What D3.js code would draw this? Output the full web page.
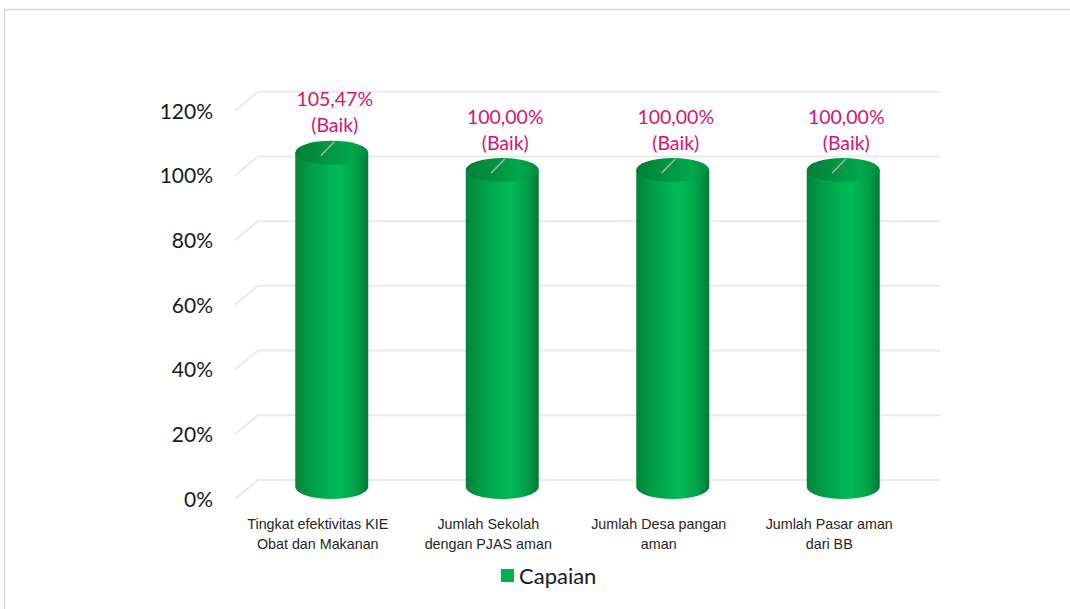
<!DOCTYPE html>
<html><head><meta charset="utf-8">
<script src="https://cdn.jsdelivr.net/npm/d3@7"></script>
<style>body{margin:0;background:#fff}svg{display:block}</style>
</head><body>
<svg id="c" width="1070" height="609"></svg>
<script>
const categories = [
  ["Tingkat efektivitas KIE", "Obat dan Makanan"],
  ["Jumlah Sekolah", "dengan PJAS aman"],
  ["Jumlah Desa pangan", "aman"],
  ["Jumlah Pasar aman", "dari BB"]
];
const values = [105.47, 100.00, 100.00, 100.00];
const valueLabels = ["105,47%", "100,00%", "100,00%", "100,00%"];
const statusLabels = ["(Baik)", "(Baik)", "(Baik)", "(Baik)"];
const yTicks = [0, 20, 40, 60, 80, 100, 120];
const seriesName = "Capaian";

const svg = d3.select("#c");
// frame
svg.append("path").attr("d","M4.5,609 L4.5,9.5 L1070,9.5").attr("fill","none").attr("stroke","#d9d9d9").attr("stroke-width",1.5);

const depthX = -23, depthY = 19;
const yBack = d3.scaleLinear().domain([0,120]).range([480,91.7]);
const yBar = d3.scaleLinear().domain([0,120]).range([487,106.6]);
const x = d3.scaleBand().domain(d3.range(categories.length)).range([258,940]).paddingInner(0).paddingOuter(0);
const barCx = i => x(i) + x.bandwidth()/2 - 11.5;
const rx = 36.5, ry = 12;

const defs = svg.append("defs");
const g1 = defs.append("linearGradient").attr("id","body").attr("x1","0").attr("x2","1").attr("y1","0").attr("y2","0");
[[0,"#05823a"],[0.18,"#009a45"],[0.5,"#00b552"],[0.62,"#00ba55"],[0.85,"#009f47"],[1,"#00793a"]].forEach(s=>g1.append("stop").attr("offset",s[0]).attr("stop-color",s[1]));
const g2 = defs.append("linearGradient").attr("id","top").attr("x1","0").attr("x2","1").attr("y1","0").attr("y2","0");
[[0,"#007f38"],[0.5,"#009a45"],[0.75,"#00a84b"],[1,"#008a3d"]].forEach(s=>g2.append("stop").attr("offset",s[0]).attr("stop-color",s[1]));

// gridlines
const grid = svg.append("g");
yTicks.forEach(t=>{
  const yb = yBack(t);
  grid.append("path")
    .attr("d",`M${258+depthX},${yb+depthY} L258,${yb} L940,${yb}`)
    .attr("fill","none").attr("stroke","#ebebeb").attr("stroke-width",2);
});

// y axis labels
const yAxis = d3.axisLeft(d3.scaleLinear().domain([0,120]).range([yBack(0)+depthY, yBack(120)+depthY]))
  .tickValues(yTicks).tickSize(0).tickPadding(0).tickFormat(d=>d+"%");
svg.append("g").attr("transform","translate(213,0)").call(yAxis)
  .call(g=>g.select(".domain").remove())
  .selectAll("text").attr("font-family","Lato, 'Open Sans', sans-serif").attr("font-size",21).attr("fill","#1a1a1a").attr("dy","0.35em");

// cylinders
const bars = svg.append("g");
values.forEach((v,i)=>{
  const cx = barCx(i), yt = yBar(v), yb = yBar(0);
  bars.append("path")
    .attr("d",`M${cx-rx},${yt} L${cx-rx},${yb} A${rx},${ry} 0 0 0 ${cx+rx},${yb} L${cx+rx},${yt} Z`)
    .attr("fill","url(#body)");
  bars.append("ellipse").attr("cx",cx).attr("cy",yt).attr("rx",rx).attr("ry",ry).attr("fill","url(#top)");
  // leader
  bars.append("line").attr("x1",cx-11).attr("y1",yt+3).attr("x2",cx+2.5).attr("y2",yt-11)
    .attr("stroke","#b0b0b0").attr("stroke-width",1.5);
  const lx = cx + 3;
  bars.append("text").attr("x",lx).attr("y",yt-53).attr("dy","0.35em").attr("text-anchor","middle")
    .attr("font-family","Lato, 'Open Sans', sans-serif").attr("font-size",19.5).attr("fill","#d6136f").text(valueLabels[i]);
  bars.append("text").attr("x",lx).attr("y",yt-27).attr("dy","0.35em").attr("text-anchor","middle")
    .attr("font-family","Lato, 'Open Sans', sans-serif").attr("font-size",19.5).attr("fill","#d6136f").text(statusLabels[i]);
});

// category labels
const cat = svg.append("g");
categories.forEach((lines,i)=>{
  const t = cat.append("text").attr("x",barCx(i)-14).attr("text-anchor","middle")
    .attr("font-family","'Liberation Sans', Arial, sans-serif").attr("font-size",14.3).attr("fill","#262626");
  lines.forEach((l,j)=>t.append("tspan").attr("x",barCx(i)-14).attr("y",524+j*20).attr("dy","0.35em").text(l));
});

// legend
svg.append("rect").attr("x",501).attr("y",569).attr("width",13).attr("height",13).attr("fill","#00b050");
svg.append("text").attr("x",519).attr("y",576).attr("dy","0.35em").attr("font-family","Lato, 'Open Sans', sans-serif")
  .attr("font-size",22).attr("fill","#1a1a1a").text(seriesName);
</script>
</body></html>
